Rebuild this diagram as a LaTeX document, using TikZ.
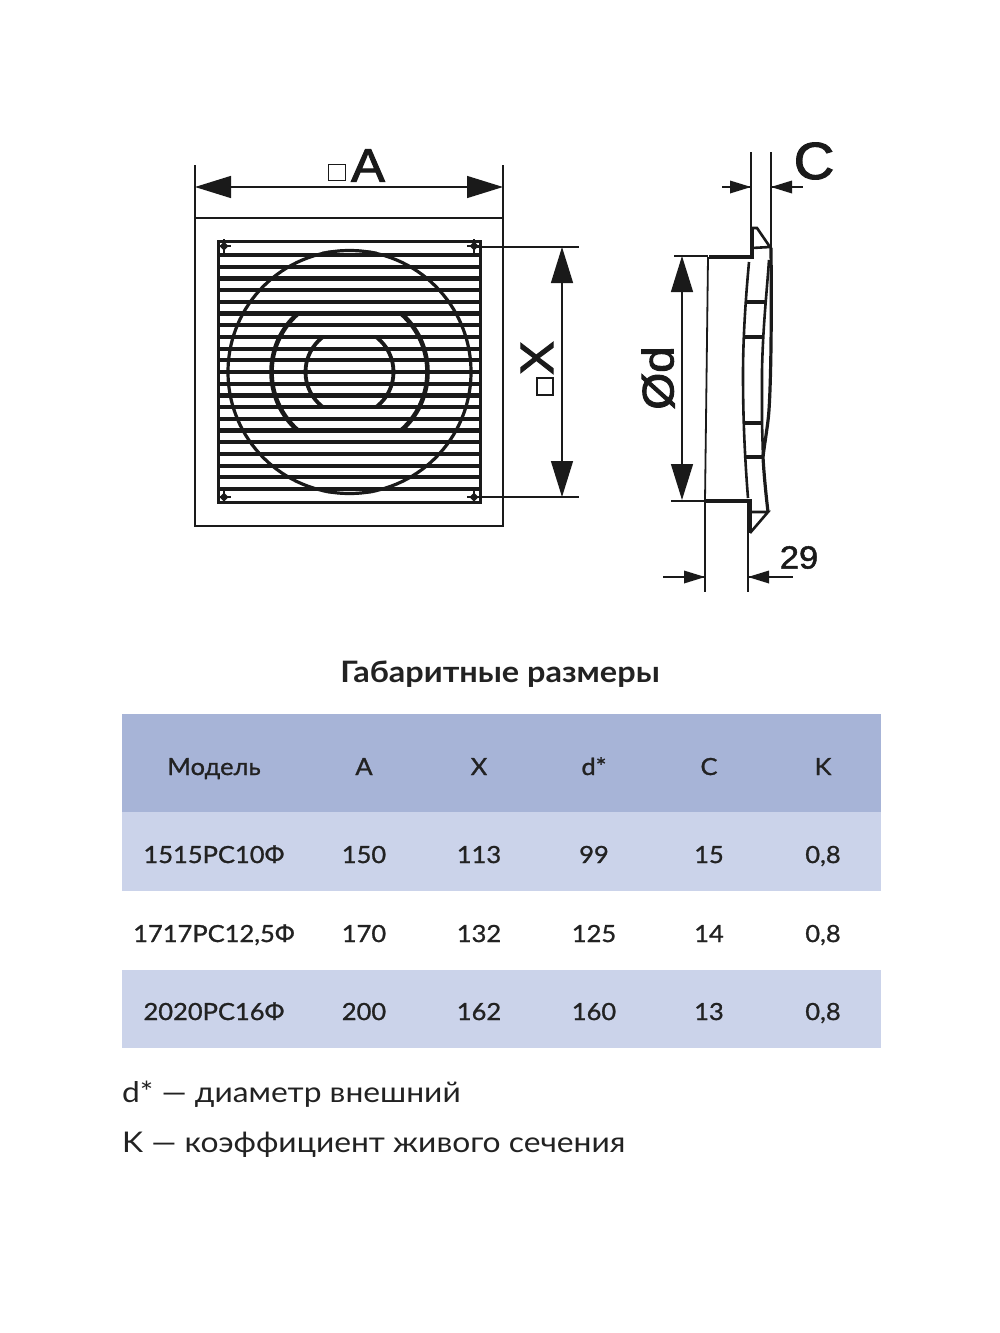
\documentclass[tikz,border=0pt]{standalone}
\usepackage{fontspec}
\setmainfont[FakeStretch=1.1]{Lato}
\newfontfamily\notefont[FakeStretch=1.115]{Lato}
\newfontfamily\cellfont[FakeStretch=1.08,FakeBold=1.1]{Lato}
\newfontfamily\drawfont[FakeBold=2.2,FakeStretch=1.08]{Liberation Sans}
\newfontfamily\numfont[FakeBold=1.5,FakeStretch=1.08]{Liberation Sans}
\definecolor{headblue}{HTML}{A7B4D7}
\definecolor{rowblue}{HTML}{CBD3EA}
\definecolor{ink}{HTML}{1A1A1A}
\definecolor{txt}{HTML}{222222}
\usetikzlibrary{arrows.meta}
\tikzset{
  body/.style={draw=ink,line width=2.6pt},
  thick body/.style={draw=ink,line width=3.8pt},
  dim/.style={draw=ink,line width=1.4pt},
  bigtip/.style={{Triangle[length=36pt,width=22pt]}-{Triangle[length=36pt,width=22pt]}},
  cell/.style={font=\cellfont\fontsize{23.6}{28}\selectfont,text=txt,anchor=base,inner sep=0pt},
  note/.style={font=\notefont\fontsize{28.5}{32}\selectfont,text=txt,anchor=base west,inner sep=0pt},
  lab/.style={text=ink,inner sep=0pt},
}
\begin{document}
\begin{tikzpicture}[x=1pt,y=-1pt]
\useasboundingbox (0,0) rectangle (1000,1333);
% front view
\draw[body] (195,218) rectangle (503,526);
\draw[draw=ink,line width=3pt] (218.5,241.5) rectangle (480,502);
\foreach \i in {0,...,20}{\draw[draw=ink,line width=4.2pt] (218,255+11.7*\i) -- (480,255+11.7*\i);}
\draw[draw=ink,line width=3.2pt] (349.5,372) circle (121.5);
\begin{scope}
\clip (220,315) rectangle (480,429);
\draw[draw=ink,line width=4.6pt] (349.5,372) circle (78);
\end{scope}
\begin{scope}
\clip (280,339) rectangle (420,405);
\draw[draw=ink,line width=3.8pt] (349.5,372) circle (44);
\end{scope}
\fill[ink] (322,251.5) .. controls (340,249) and (359,249) .. (377,251.5) -- cycle;
\fill[ink] (322,492.5) .. controls (340,495) and (359,495) .. (377,492.5) -- cycle;
\foreach \px/\py in {224/246,474/246,224/497,474/497}{
  \fill[ink] (\px-4.5,\py) -- (\px,\py-4.5) -- (\px+4.5,\py) -- (\px,\py+4.5) -- cycle;
  \draw[draw=ink,line width=1.2pt] (\px-7,\py) -- (\px+7,\py) (\px,\py-7) -- (\px,\py+7);
}
% A dimension
\coordinate (aL) at (195,187); \coordinate (aR) at (503,187);
\draw[dim] (195,165) -- (195,218) (503,165) -- (503,218);
\draw[dim,bigtip] (aL) -- (aR);
\draw[line width=1.8pt,draw=ink] (328.5,164.5) rectangle (345.5,180.5);
\node[lab,font=\drawfont\fontsize{47}{47}\selectfont] (labA) at (368,165.5) {A};
% X dimension
\coordinate (xT) at (562,247); \coordinate (xB) at (562,497);
\draw[dim] (474,247) -- (579,247) (474,497) -- (579,497);
\draw[dim,bigtip] (xT) -- (xB);
\draw[line width=1.8pt,draw=ink] (537,378) rectangle (553,395);
\node[lab,rotate=90,font=\drawfont\fontsize{47}{47}\selectfont] (labX) at (537,358) {X};
% side view
\draw[dim] (751,152) -- (751,228) (771,152) -- (771,248);
\draw[dim] (705,501) -- (705,592) (748,501) -- (748,592);
\draw[draw=ink,line width=1.8pt] (708,257) .. controls (707,340) and (706,420) .. (705,501);
\draw[thick body,line join=miter] (709,257) -- (752,257) -- (752,228);
\draw[body,line join=miter] (752,228) -- (757,228) -- (770,247) -- (752,248);
\draw[thick body,line join=miter] (705,501) -- (750,501) -- (750,533);
\draw[body,line join=miter] (750,533) -- (768,512) -- (750,512);
\draw[body] (749,262) .. controls (746,295) and (743,335) .. (743,375) .. controls (743,420) and (745,460) .. (748,498);
\draw[line width=3.2pt,draw=ink] (771,248) .. controls (771.5,300) and (771.5,370) .. (769,410) .. controls (768,425) and (765,440) .. (763,457) .. controls (764,475) and (766,495) .. (768,512);
\draw[body] (769,260) .. controls (767,290) and (763,325) .. (762,370) -- (762,423) -- (763,457);
\foreach \ya/\xa/\xb in {302/745/767,337/744/764,423/744/762,457/745/763}{
  \draw[draw=ink,line width=3.2pt] (\xa,\ya) -- (\xb,\ya);
}
% C dimension
\coordinate (cL) at (751,187); \coordinate (cR) at (771,187);
\coordinate (cLf) at (722,187); \coordinate (cRf) at (803,187);
\draw[dim] (cLf) -- (cL) (cR) -- (cRf);
\fill[ink] (cL) -- ++(-21,-6.5) -- ++(0,13) -- cycle;
\fill[ink] (cR) -- ++(21,-6.5) -- ++(0,13) -- cycle;
\node[lab,font=\drawfont\fontsize{52}{52}\selectfont] (labC) at (814,161) {C};
% d dimension
\coordinate (dT) at (682,256); \coordinate (dB) at (682,500);
\draw[dim] (674,256) -- (708,256) (671,501) -- (705,501);
\draw[dim,bigtip] (dT) -- (dB);
\node[lab,rotate=90,font=\drawfont\fontsize{44}{44}\selectfont] (labd) at (658,378) {Ød};
% 29 dimension
\coordinate (nL) at (705,577); \coordinate (nR) at (748,577);
\coordinate (nLf) at (663,577); \coordinate (nRf) at (793,577);
\draw[dim] (nLf) -- (nL) (nR) -- (nRf);
\fill[ink] (nL) -- ++(-21,-6.5) -- ++(0,13) -- cycle;
\fill[ink] (nR) -- ++(21,-6.5) -- ++(0,13) -- cycle;
\node[lab,font=\numfont\fontsize{32}{32}\selectfont] (lab29) at (799,557.5) {29};
% title
\node[font=\bfseries\fontsize{29.5}{32}\selectfont,text=txt,inner sep=0pt,anchor=base] (title) at (500,682) {Габаритные размеры};
% table
\fill[headblue] (122,714) rectangle (881,812);
\fill[rowblue] (122,812) rectangle (881,891);
\fill[rowblue] (122,970) rectangle (881,1048);
\foreach \n/\xx/\t in {m0/214/Модель,m1/364/A,m2/479/X,m3/594/d*,m4/709/C,m5/823/K}{\node[cell] (\n) at (\xx,775) {\t};}
\foreach \n/\xx/\t in {a0/214/1515РС10Ф,a1/364/150,a2/479/113,a3/594/99,a4/709/15}{\node[cell] (\n) at (\xx,863) {\t};}
\node[cell] (a5) at (823,863) {0,8};
\foreach \n/\xx/\t in {b0/214/1717РС12\hbox{,}5Ф,b1/364/170,b2/479/132,b3/594/125,b4/709/14}{\node[cell] (\n) at (\xx,942) {\t};}
\node[cell] (b5) at (823,942) {0,8};
\foreach \n/\xx/\t in {c0/214/2020РС16Ф,c1/364/200,c2/479/162,c3/594/160,c4/709/13}{\node[cell] (\n) at (\xx,1020) {\t};}
\node[cell] (c5) at (823,1020) {0,8};
\node[note] (n1) at (122,1102) {d* — диаметр внешний};
\node[note] (n2) at (122,1152) {K — коэффициент живого сечения};
\end{tikzpicture}
\end{document}
